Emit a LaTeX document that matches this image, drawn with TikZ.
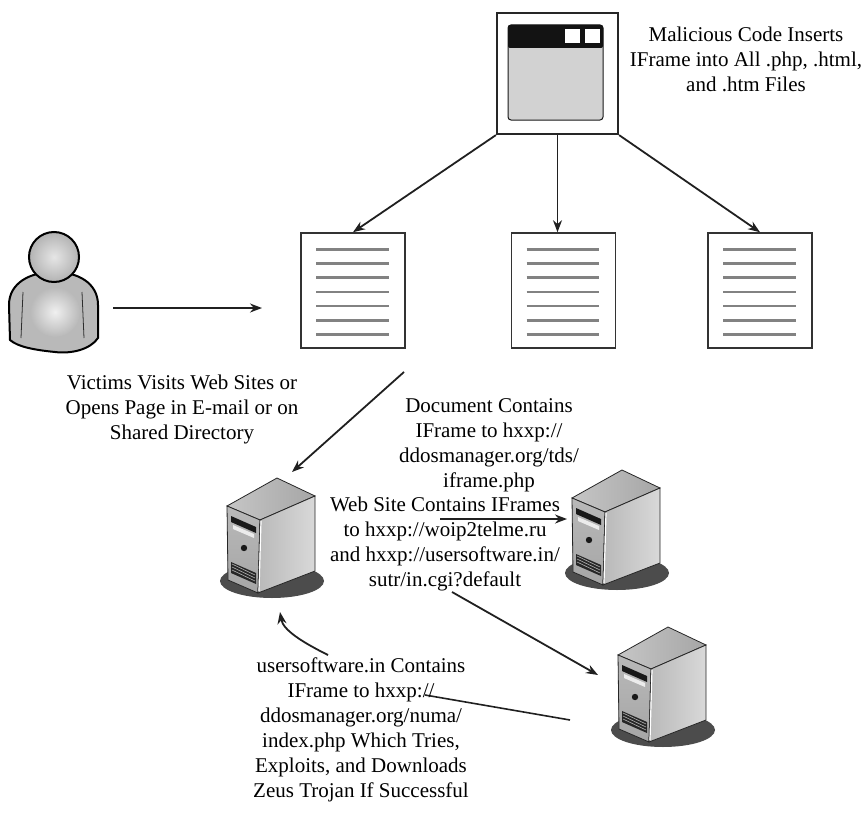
\documentclass[tikz,border=0pt]{standalone}
\usepackage{fontspec}
\setmainfont{Liberation Serif}
\usetikzlibrary{arrows.meta,calc}
\begin{document}
\begin{tikzpicture}[x=1pt,y=-1pt,
  arr/.style={draw=gray!25!black, line width=1.8pt, -{Stealth[length=12pt,width=9pt]}},
  plain/.style={draw=gray!25!black, line width=1.6pt},
  doc/.style={draw=gray!40!black, line width=1.6pt, fill=white, minimum width=104pt, minimum height=115pt, inner sep=0},
  lbl/.style={align=center, inner sep=0, font=\fontsize{21}{25}\selectfont},
  area/.style={inner sep=0, minimum width=#1},
  server/.pic={
    % floor shadow
    \fill[gray!60!black] (-5,103) ellipse (52 and 17);
    % top face
    \shadedraw[draw=gray!30!black, line width=0.8pt, left color=gray!45, right color=gray!70]
      (-50,28) -- (0,0) -- (38,18) -- (-17,42) -- cycle;
    % front panel
    \shadedraw[draw=gray!30!black, line width=0.8pt, top color=gray!55, bottom color=gray!70]
      (-50,28) -- (-17,42) -- (-19,115) -- (-49,102) -- cycle;
    % side panel
    \shadedraw[draw=gray!30!black, line width=0.8pt, left color=gray!55, right color=gray!30]
      (-17,42) -- (38,18) -- (38,93) -- (-19,115) -- cycle;
    \draw[white, line width=1.2pt] (-16,43) -- (-18,113);
    % drive bays, button and grill
    \fill[gray!20!black] (-46,38) -- (-21,49) -- (-21,55) -- (-46,44) -- cycle;
    \fill[gray!15] (-44,47) -- (-23,56) -- (-23,60) -- (-44,51) -- cycle;
    \fill[gray!20!black] (-33,70) circle (3.2);
    \fill[gray!30!black] (-46,84) -- (-21,95) -- (-21,106) -- (-46,95) -- cycle;
    \foreach \k in {0,3,6} \draw[gray!60, line width=0.6pt] (-45,86+\k) -- (-22,97+\k);
  }
]
\useasboundingbox (0,0) rectangle (868,816);

% ---------- browser window ----------
\node[draw=gray!30!black, line width=2.2pt, fill=white, minimum width=121pt, minimum height=121pt, inner sep=0] (br) at (557.5,73.5) {};
\draw[gray!20!black, line width=1pt, fill=gray!35, rounded corners=3pt] (508,25) rectangle (603,120);
\fill[gray!15!black, rounded corners=2pt] (508,25) rectangle (603,48);
\fill[white] (565,29) rectangle (580,43);
\fill[white] (585,29) rectangle (600,43);
\node[lbl] (tmal) at (746,59) {Malicious Code Inserts\\IFrame into All .php, .html,\\and .htm Files};

% ---------- documents ----------
\node[doc] (d1) at (353,290.5) {};
\node[doc] (d2) at (563.5,290.5) {};
\node[doc] (d3) at (760,290.5) {};
\foreach \d in {d1,d2,d3}
  \foreach \k in {0,...,6}
    \draw[gray!60!black!70, line width=2.6pt] ($(\d.north west)+(16,17+14.2*\k)$) -- ($(\d.north east)+(-17,17+14.2*\k)$);

\draw[arr] (br.south west) -- (d1.north);
\draw[arr] (br.south) -- (br.south |- d2.north);
\draw[arr] (br.south east) -- (d3.north);

% ---------- victim ----------
\node[area=90pt, minimum height=125pt] (victim) at (54,290) {};
\draw[line width=2pt, fill=gray!55] (10,340) -- (9,305) .. controls (9,283) and (30,272) .. (54,272)
  .. controls (78,272) and (98,283) .. (98,305) -- (98,338)
  .. controls (90,350) and (70,354) .. (55,352) .. controls (35,350) and (18,347) .. (10,340) -- cycle;
\shade[inner color=gray!12, outer color=gray!55] (55,312) circle (25);
\draw[gray!35!black, line width=0.8pt] (23,292) -- (21,338);
\draw[gray!35!black, line width=0.8pt] (82,292) -- (84,338);
\shadedraw[line width=2pt, inner color=gray!20, outer color=gray!60] (54,257) circle (25);

\coordinate (a1) at (262,308);
\draw[arr] ([xshift=14pt]victim.east |- a1) -- (a1);
\node[lbl] (tvic) at (182,409) {Victims Visits Web Sites or\\Opens Page in E-mail or on\\Shared Directory};

\node[lbl] (tdoc) at (489,445) {Document Contains\\IFrame to hxxp://\\ddosmanager.org/tds/\\iframe.php};

% ---------- servers ----------
\pic at (277,478) {server};
\pic at (622,470) {server};
\pic at (668,627) {server};
\node[area=100pt, minimum height=130pt] (s1) at (272,535) {};
\node[area=100pt, minimum height=130pt] (s2) at (617,527) {};
\node[area=100pt, minimum height=130pt] (s3) at (663,684) {};

\coordinate (c1) at (404,372);
\coordinate (s1in) at (292,472);
\draw[arr] (c1) -- (s1in);

\coordinate (c2) at (440,519);
\coordinate (s2in) at (567,519);
\draw[arr] (c2) -- (s2in);

\node[lbl] (tweb) at (445,544) {Web Site Contains IFrames\\to hxxp://woip2telme.ru\\and hxxp://usersoftware.in/\\sutr/in.cgi?default};

\coordinate (c3) at (452,592);
\coordinate (s3in) at (598,675);
\draw[arr] (c3) -- (s3in);

\coordinate (c4) at (570,720);
\coordinate (c5) at (425,695);
\draw[plain] (c4) -- (c5);

\coordinate (c6) at (328,655);
\coordinate (s1out) at (280,612);
\draw[arr] (c6) .. controls (302,642) and (283,630) .. (s1out);

\node[lbl] (tuser) at (361,730) {usersoftware.in Contains\\IFrame to hxxp://\\ddosmanager.org/numa/\\index.php Which Tries,\\Exploits, and Downloads\\Zeus Trojan If Successful};
\end{tikzpicture}
\end{document}
